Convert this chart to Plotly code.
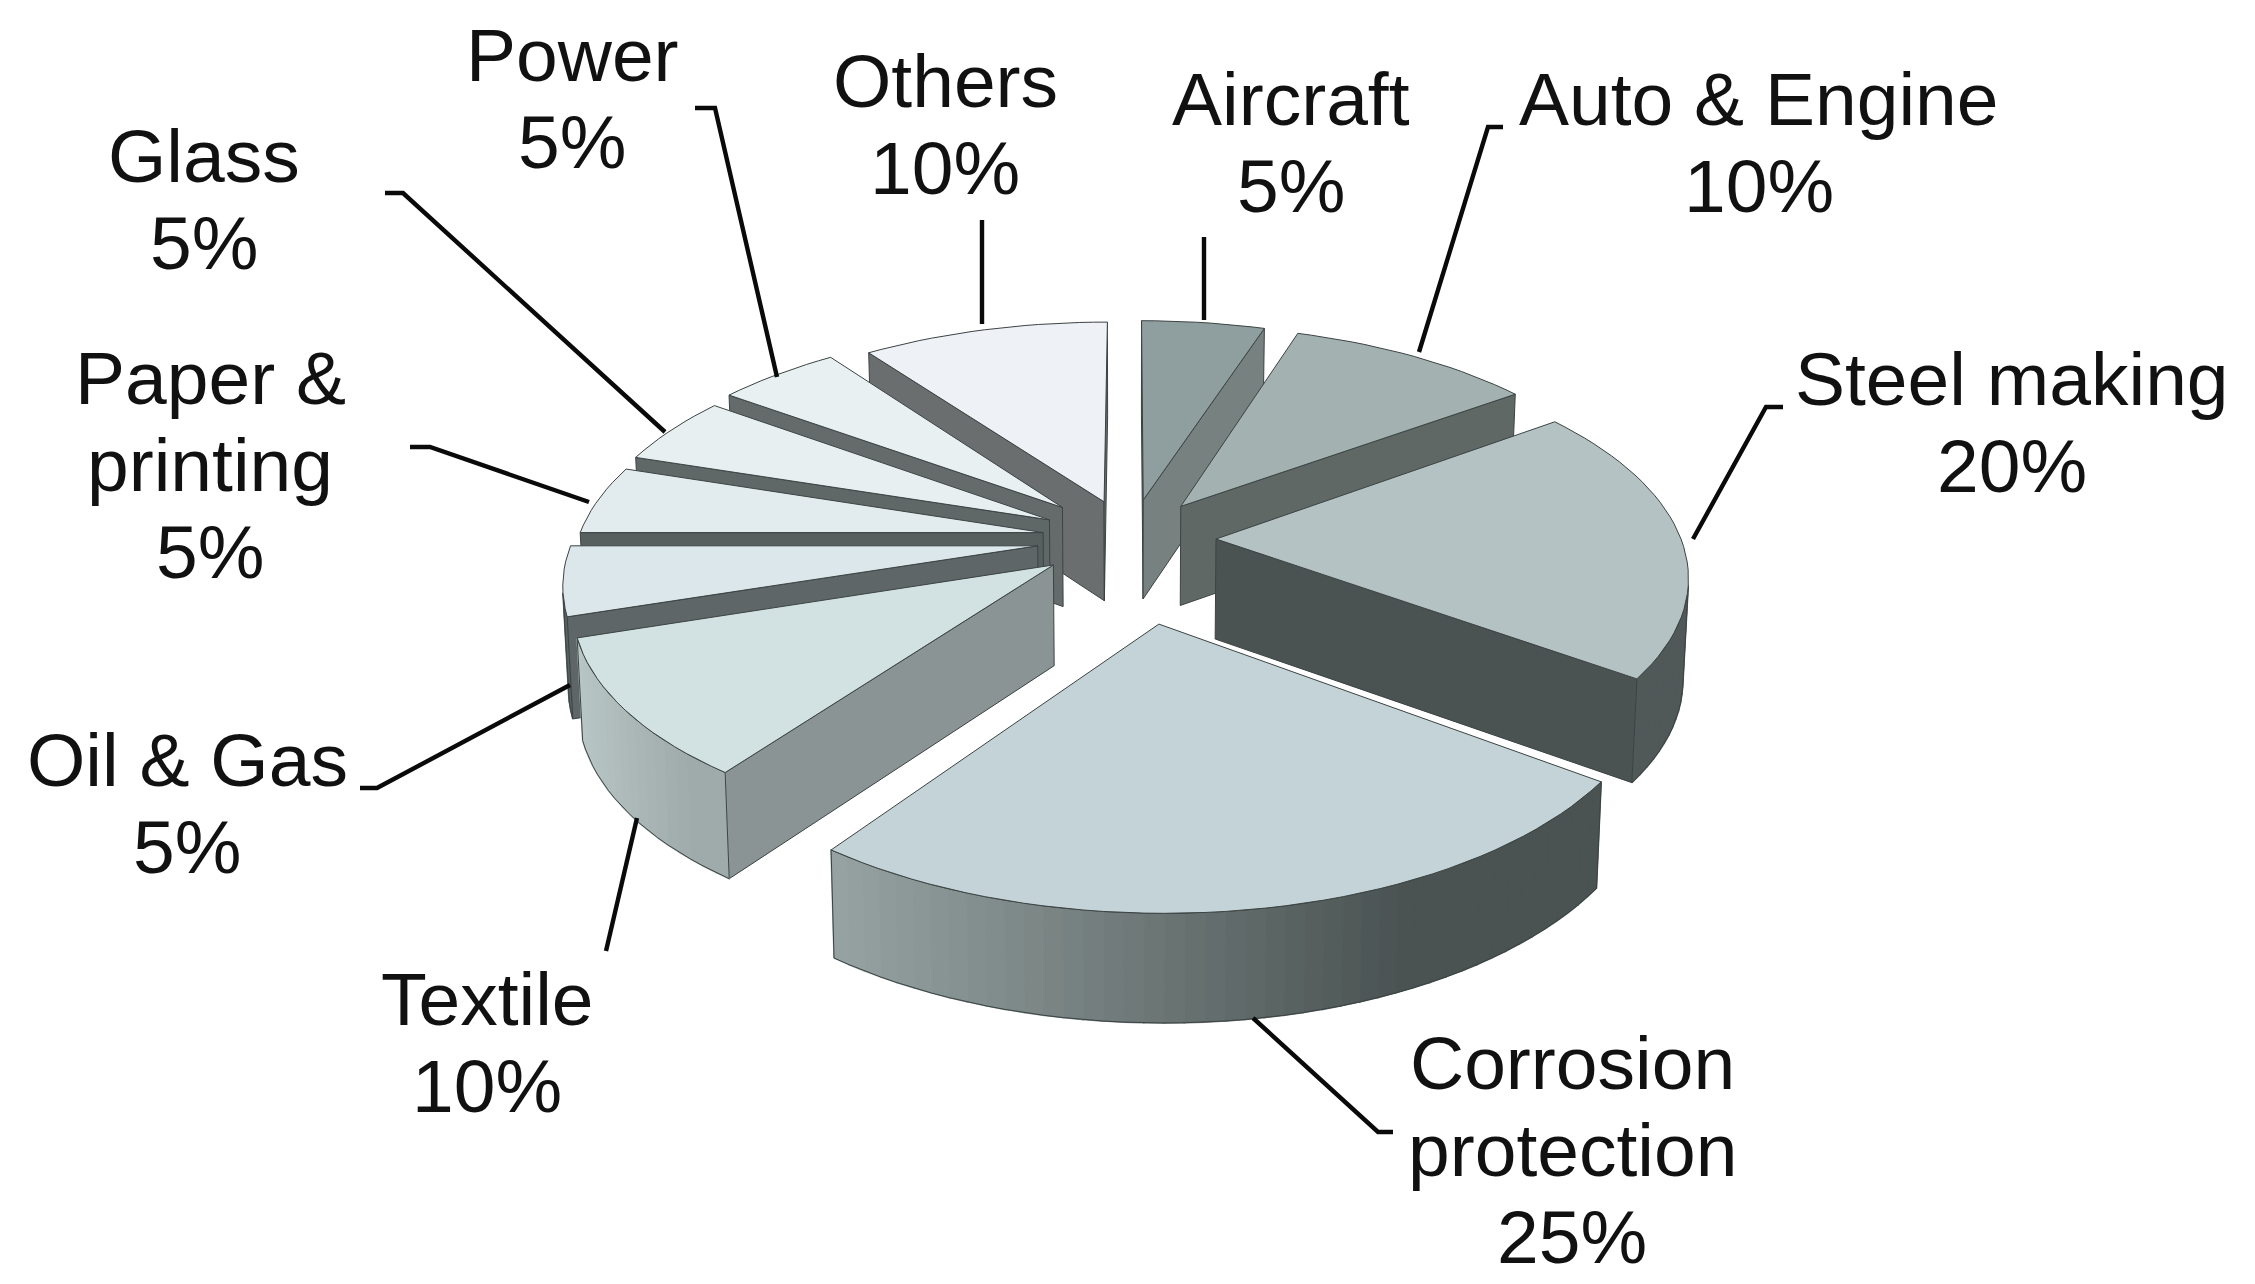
import math
import plotly.graph_objects as go

# ---- data ----
names = ["Aircraft", "Auto & Engine", "Steel making", "Corrosion protection", "Textile",
         "Oil & Gas", "Paper & printing", "Glass", "Power", "Others"]
shares = [5, 10, 20, 25, 10, 5, 5, 5, 5, 10]

# ---- style of each slice ----
pulls = [.187, .19, .185, .375, .2, .2, .19, .197, .21, .185]
top_colors = ["#8f9e9f", "#a3b1b1", "#b4c2c3", "#c3d3d7", "#d2e1e2",
              "#dbe7ea", "#e2ecee", "#e7eff1", "#e9f0f2", "#eef1f5"]
side_colors = ["#77817f", "#5f6865", "#4a5352", "#4a5352", "#8a9494",
               "#5e6668", "#57605f", "#5f6867", "#656b6b", "#6a6e6e"]
rim_left = ["#8f9e9f", "#7d8a88", "#505958", "#97a3a3", "#b9c6c6",
            "#5a6262", "#5a6262", "#5a6262", "#5a6262", "#6a6e6e"]
rim_right = ["#8f9e9f", "#5f6865", "#505958", "#4a5352", "#9faaaa",
             "#5a6262", "#5a6262", "#5a6262", "#5a6262", "#6a6e6e"]

# ---- labels ----
label_x = [1291, 1759, 2012, 1572, 487, 187, 210, 204, 572, 945]
label_y = [99, 99, 379, 1063, 999, 760, 378, 156, 55, 81]
label_lines = [["Aircraft", "5%"], ["Auto & Engine", "10%"], ["Steel making", "20%"],
               ["Corrosion", "protection", "25%"], ["Textile", "10%"], ["Oil & Gas", "5%"],
               ["Paper &", "printing", "5%"], ["Glass", "5%"], ["Power", "5%"], ["Others", "10%"]]
leaders = [
    [(1204, 237), (1204, 320)],
    [(1503, 127), (1488, 127), (1419, 352)],
    [(1783, 407), (1766, 407), (1693, 539)],
    [(1253, 1018), (1378, 1132), (1393, 1132)],
    [(637, 818), (606, 951)],
    [(570, 685), (377, 788), (360, 788)],
    [(410, 447), (430, 447), (589, 502)],
    [(385, 193), (403, 193), (665, 432)],
    [(695, 108), (715, 108), (777, 377)],
    [(982, 220), (982, 324)],
]

# ---- projection of the pie plane on to the page ----
CX, CY, AX, BY, PERSP, DEPTH = 1130, 539, 465, 217, .15, 100


def project(X, Y):
    w = 1 + PERSP * Y
    return (CX + AX * X / w, CY - BY * Y / w)


def drop(X, Y):
    x, y = project(X, Y)
    w = 1 + PERSP * Y
    return (CX + (x - CX) * .99, y + DEPTH * (1 / w) ** .4)


def area(p):
    return sum(p[i][0] * p[(i + 1) % len(p)][1] - p[(i + 1) % len(p)][0] * p[i][1] for i in range(len(p))) / 2


def mix(a, b, f):
    ca = [int(a[i:i + 2], 16) for i in (1, 3, 5)]
    cb = [int(b[i:i + 2], 16) for i in (1, 3, 5)]
    return "#" + "".join(f"{round(u + (v - u) * f):02x}" for u, v in zip(ca, cb))


fig = go.Figure()


def poly(points, fill, line=None, width=1.6):
    fig.add_trace(go.Scatter(
        x=[p[0] for p in points] + [points[0][0]],
        y=[p[1] for p in points] + [points[0][1]],
        mode="lines", fill="toself", fillcolor=fill,
        line=dict(color=line or fill, width=width),
        hoverinfo="skip", showlegend=False))


total = sum(shares)
slices = []
start = 0.0
for i, s in enumerate(shares):
    end = start + s / total * 2 * math.pi
    slices.append((i, start, end))
    start = end

OUTLINE = "#3c4343"
for i, t0, t1 in sorted(slices, key=lambda v: -math.cos((v[1] + v[2]) / 2)):
    mid = (t0 + t1) / 2
    ox, oy = pulls[i] * math.sin(mid), pulls[i] * math.cos(mid)
    n = max(4, int((t1 - t0) / math.radians(2)))
    ring = [(ox + math.sin(t0 + (t1 - t0) * k / n), oy + math.cos(t0 + (t1 - t0) * k / n)) for k in range(n + 1)]
    apex = (ox, oy)
    top = [project(*apex)] + [project(*r) for r in ring]
    for a, b in ((apex, ring[0]), (ring[-1], apex)):
        q = [project(*a), project(*b), drop(*b), drop(*a)]
        if area(q) < 0:
            poly(q, side_colors[i], OUTLINE, 1.0)
    segs = []
    for k in range(n):
        q = [project(*ring[k]), project(*ring[k + 1]), drop(*ring[k + 1]), drop(*ring[k])]
        if area(q) < 0:
            segs.append((ring[k], ring[k + 1], q))
    if segs:
        xs = [p[0] for sg in segs for p in sg[2]]
        lo, hi = min(xs), max(xs)
        for _, _, q in segs:
            f = (sum(p[0] for p in q) / 4 - lo) / max(hi - lo, 1)
            poly(q, mix(rim_left[i], rim_right[i], min(1, f * 1.35)))
        rim_top = [project(*segs[0][0])] + [project(*sg[1]) for sg in segs]
        rim_bot = [drop(*segs[0][0])] + [drop(*sg[1]) for sg in segs]
        outline = rim_top + rim_bot[::-1]
        fig.add_trace(go.Scatter(
            x=[p[0] for p in outline] + [outline[0][0]], y=[p[1] for p in outline] + [outline[0][1]],
            mode="lines", line=dict(color=OUTLINE, width=1.0), hoverinfo="skip", showlegend=False))
    poly(top, top_colors[i], OUTLINE, 1.0)

for pts in leaders:
    fig.add_trace(go.Scatter(x=[p[0] for p in pts], y=[p[1] for p in pts], mode="lines",
                             line=dict(color="#0a0a0a", width=4.4), hoverinfo="skip", showlegend=False))

LINE_GAP = 87
annotations = []
for lines, x, y in zip(label_lines, label_x, label_y):
    for j, txt in enumerate(lines):
        annotations.append(dict(x=x, y=y + j * LINE_GAP, xref="x", yref="y", text=txt, showarrow=False,
                                xanchor="center", yanchor="middle",
                                font=dict(family="Liberation Sans, Arial", size=75, color="#111111")))

fig.update_layout(
    width=2255, height=1284, margin=dict(l=0, r=0, t=0, b=0),
    paper_bgcolor="white", plot_bgcolor="white", showlegend=False, annotations=annotations,
    xaxis=dict(range=[0, 2255], visible=False, fixedrange=True),
    yaxis=dict(range=[1284, 0], visible=False, fixedrange=True),
)
fig.write_html("out.html", post_script="document.body.style.margin='0';document.body.style.overflow='hidden';",
               config={"displayModeBar": False})
